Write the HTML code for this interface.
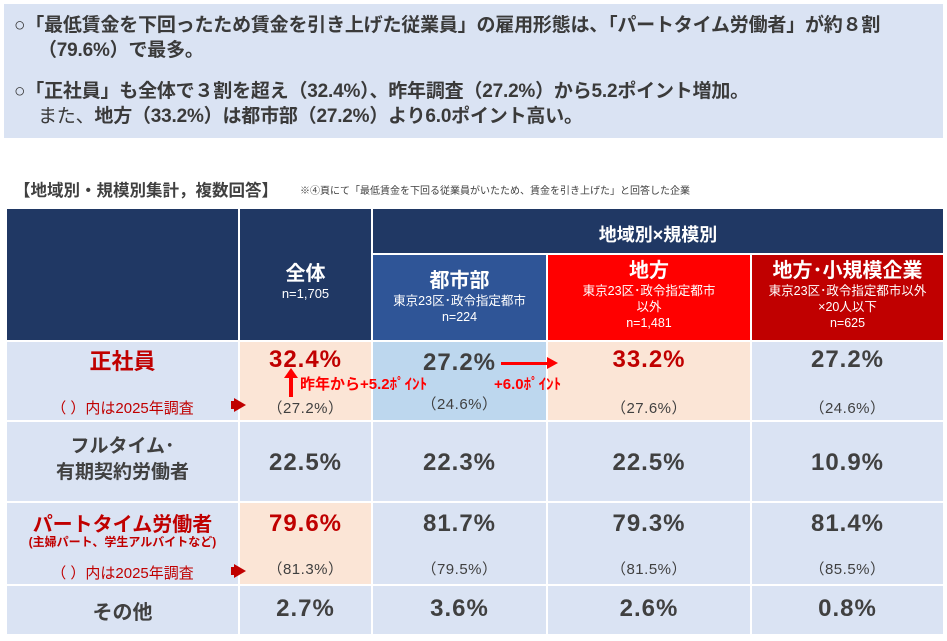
<!DOCTYPE html>
<html><head><meta charset="utf-8"><style>
body{margin:0;width:947px;height:641px;background:#fff;position:relative;overflow:hidden;font-family:"Liberation Sans","Noto Sans CJK JP",sans-serif;}
div{position:absolute;box-sizing:border-box;}
.c{text-align:center;white-space:nowrap;}
.b{font-weight:bold;}
.top{left:4px;top:4px;width:939px;height:134px;background:#dae3f3;}
.tl{font-size:19px;font-weight:bold;color:#3a3a3a;white-space:nowrap;letter-spacing:-0.2px;}
.cell{border:1px solid #fff;}
.navy{background:#203864;color:#fff;}
.lb{background:#dae3f3;}
.pe{background:#fbe5d6;}
.big{font-size:24px;font-weight:bold;color:#404040;letter-spacing:1px;}
.red{color:#c00000;}
.sm{font-size:15px;color:#404040;letter-spacing:0.5px;}
</style></head><body>
<div class="top"></div>
<div class="tl" style="left:14px;top:10px">○「最低賃金を下回ったため賃金を引き上げた従業員」の雇用形態は、「パートタイム労働者」が約８割</div>
<div class="tl" style="left:38px;top:35px">（79.6%）で最多。</div>
<div class="tl" style="left:14px;top:76px">○「正社員」も全体で３割を超え（32.4%）、昨年調査（27.2%）から5.2ポイント増加。</div>
<div class="tl" style="left:38px;top:101px"><span style="font-weight:normal">また、</span>地方（33.2%）は都市部（27.2%）より6.0ポイント高い。</div>

<div class="b" style="left:14px;top:177px;font-size:16.5px;color:#404040;white-space:nowrap">【地域別・規模別集計，複数回答】</div>
<div style="left:300px;top:182px;font-size:10px;color:#404040;white-space:nowrap">※④頁にて「最低賃金を下回る従業員がいたため、賃金を引き上げた」と回答した企業</div>

<!-- header -->
<div class="cell navy" style="left:6px;top:208px;width:233px;height:133px"></div>
<div class="cell navy c" style="left:239px;top:208px;width:133px;height:133px;padding-top:48px"><div class="b" style="position:static;font-size:20px">全体</div><div style="position:static;font-size:13px">n=1,705</div></div>
<div class="cell navy c b" style="left:372px;top:208px;width:572px;height:46px;font-size:18px;padding-top:12px">地域別×規模別</div>
<div class="cell c" style="left:372px;top:254px;width:175px;height:87px;background:#2f5597;color:#fff;padding-top:14px"><div class="b" style="position:static;font-size:20px;line-height:24px">都市部</div><div style="position:static;font-size:12.5px;line-height:16px">東京23区･政令指定都市<br>n=224</div></div>
<div class="cell c" style="left:547px;top:254px;width:204px;height:87px;background:#ff0000;color:#fff;padding-top:4px"><div class="b" style="position:static;font-size:20px;line-height:24px">地方</div><div style="position:static;font-size:12.5px;line-height:16px">東京23区･政令指定都市<br>以外<br>n=1,481</div></div>
<div class="cell c" style="left:751px;top:254px;width:193px;height:87px;background:#c00000;color:#fff;padding-top:4px"><div class="b" style="position:static;font-size:20px;line-height:24px">地方･小規模企業</div><div style="position:static;font-size:12.5px;line-height:16px">東京23区･政令指定都市以外<br>×20人以下<br>n=625</div></div>

<!-- row1 -->
<div class="cell lb" style="left:6px;top:341px;width:233px;height:80px"></div>
<div class="cell pe" style="left:239px;top:341px;width:133px;height:80px"></div>
<div class="cell" style="left:372px;top:341px;width:175px;height:80px;background:#bdd7ee"></div>
<div class="cell pe" style="left:547px;top:341px;width:204px;height:80px"></div>
<div class="cell lb" style="left:751px;top:341px;width:193px;height:80px"></div>
<div class="c b red" style="left:6px;top:344px;width:233px;font-size:22px">正社員</div>
<div class="c red" style="left:6px;top:397px;width:233px;font-size:15px">（ ）内は2025年調査</div>
<div style="left:234px;top:398px;width:0;height:0;border-left:12px solid #c00000;border-top:7px solid transparent;border-bottom:7px solid transparent"></div>
<div style="left:231px;top:401px;width:5px;height:8px;background:#c00000"></div>
<div class="c big red" style="left:239px;top:346px;width:133px">32.4%</div>
<div class="c sm red" style="left:239px;top:397px;width:133px">（27.2%）</div>
<div class="c big" style="left:372px;top:349px;width:175px">27.2%</div>
<div class="c sm" style="left:372px;top:393px;width:175px">（24.6%）</div>
<div class="c big red" style="left:547px;top:346px;width:204px">33.2%</div>
<div class="c sm red" style="left:547px;top:397px;width:204px">（27.6%）</div>
<div class="c big" style="left:751px;top:346px;width:193px">27.2%</div>
<div class="c sm" style="left:751px;top:397px;width:193px">（24.6%）</div>
<!-- annotations -->
<div style="left:289px;top:377px;width:4px;height:20px;background:#ff0000"></div>
<div style="left:284px;top:368px;width:0;height:0;border-bottom:10px solid #ff0000;border-left:7px solid transparent;border-right:7px solid transparent"></div>
<div class="b" style="left:300px;top:373px;font-size:15px;color:#ff0000;white-space:nowrap">昨年から+5.2ﾎﾟｲﾝﾄ</div>
<div style="left:501px;top:362px;width:48px;height:3px;background:#ff0000"></div>
<div style="left:547px;top:357px;width:0;height:0;border-left:11px solid #ff0000;border-top:6px solid transparent;border-bottom:6px solid transparent"></div>
<div class="b" style="left:494px;top:373px;font-size:15px;color:#ff0000;white-space:nowrap">+6.0ﾎﾟｲﾝﾄ</div>

<!-- row2 -->
<div class="cell lb" style="left:6px;top:421px;width:233px;height:81px"></div>
<div class="cell lb" style="left:239px;top:421px;width:133px;height:81px"></div>
<div class="cell lb" style="left:372px;top:421px;width:175px;height:81px"></div>
<div class="cell lb" style="left:547px;top:421px;width:204px;height:81px"></div>
<div class="cell lb" style="left:751px;top:421px;width:193px;height:81px"></div>
<div class="c b" style="left:6px;top:434px;width:233px;font-size:19px;line-height:26px;color:#404040">フルタイム･<br>有期契約労働者</div>
<div class="c big" style="left:239px;top:449px;width:133px">22.5%</div>
<div class="c big" style="left:372px;top:449px;width:175px">22.3%</div>
<div class="c big" style="left:547px;top:449px;width:204px">22.5%</div>
<div class="c big" style="left:751px;top:449px;width:193px">10.9%</div>

<!-- row3 -->
<div class="cell lb" style="left:6px;top:502px;width:233px;height:83px"></div>
<div class="cell pe" style="left:239px;top:502px;width:133px;height:83px"></div>
<div class="cell lb" style="left:372px;top:502px;width:175px;height:83px"></div>
<div class="cell lb" style="left:547px;top:502px;width:204px;height:83px"></div>
<div class="cell lb" style="left:751px;top:502px;width:193px;height:83px"></div>
<div class="c b red" style="left:6px;top:508px;width:233px;font-size:20px">パートタイム労働者</div>
<div class="c b red" style="left:6px;top:533px;width:233px;font-size:12px">(主婦パート、学生アルバイトなど)</div>
<div class="c red" style="left:6px;top:562px;width:233px;font-size:15px">（ ）内は2025年調査</div>
<div style="left:234px;top:564px;width:0;height:0;border-left:12px solid #c00000;border-top:7px solid transparent;border-bottom:7px solid transparent"></div>
<div style="left:231px;top:567px;width:5px;height:8px;background:#c00000"></div>
<div class="c big red" style="left:239px;top:510px;width:133px">79.6%</div>
<div class="c sm red" style="left:239px;top:558px;width:133px">（81.3%）</div>
<div class="c big" style="left:372px;top:510px;width:175px">81.7%</div>
<div class="c sm" style="left:372px;top:558px;width:175px">（79.5%）</div>
<div class="c big" style="left:547px;top:510px;width:204px">79.3%</div>
<div class="c sm" style="left:547px;top:558px;width:204px">（81.5%）</div>
<div class="c big" style="left:751px;top:510px;width:193px">81.4%</div>
<div class="c sm" style="left:751px;top:558px;width:193px">（85.5%）</div>

<!-- row4 -->
<div class="cell lb" style="left:6px;top:585px;width:233px;height:50px"></div>
<div class="cell lb" style="left:239px;top:585px;width:133px;height:50px"></div>
<div class="cell lb" style="left:372px;top:585px;width:175px;height:50px"></div>
<div class="cell lb" style="left:547px;top:585px;width:204px;height:50px"></div>
<div class="cell lb" style="left:751px;top:585px;width:193px;height:50px"></div>
<div class="c b" style="left:6px;top:596px;width:233px;font-size:20px;color:#404040">その他</div>
<div class="c big" style="left:239px;top:595px;width:133px">2.7%</div>
<div class="c big" style="left:372px;top:595px;width:175px">3.6%</div>
<div class="c big" style="left:547px;top:595px;width:204px">2.6%</div>
<div class="c big" style="left:751px;top:595px;width:193px">0.8%</div>
</body></html>
